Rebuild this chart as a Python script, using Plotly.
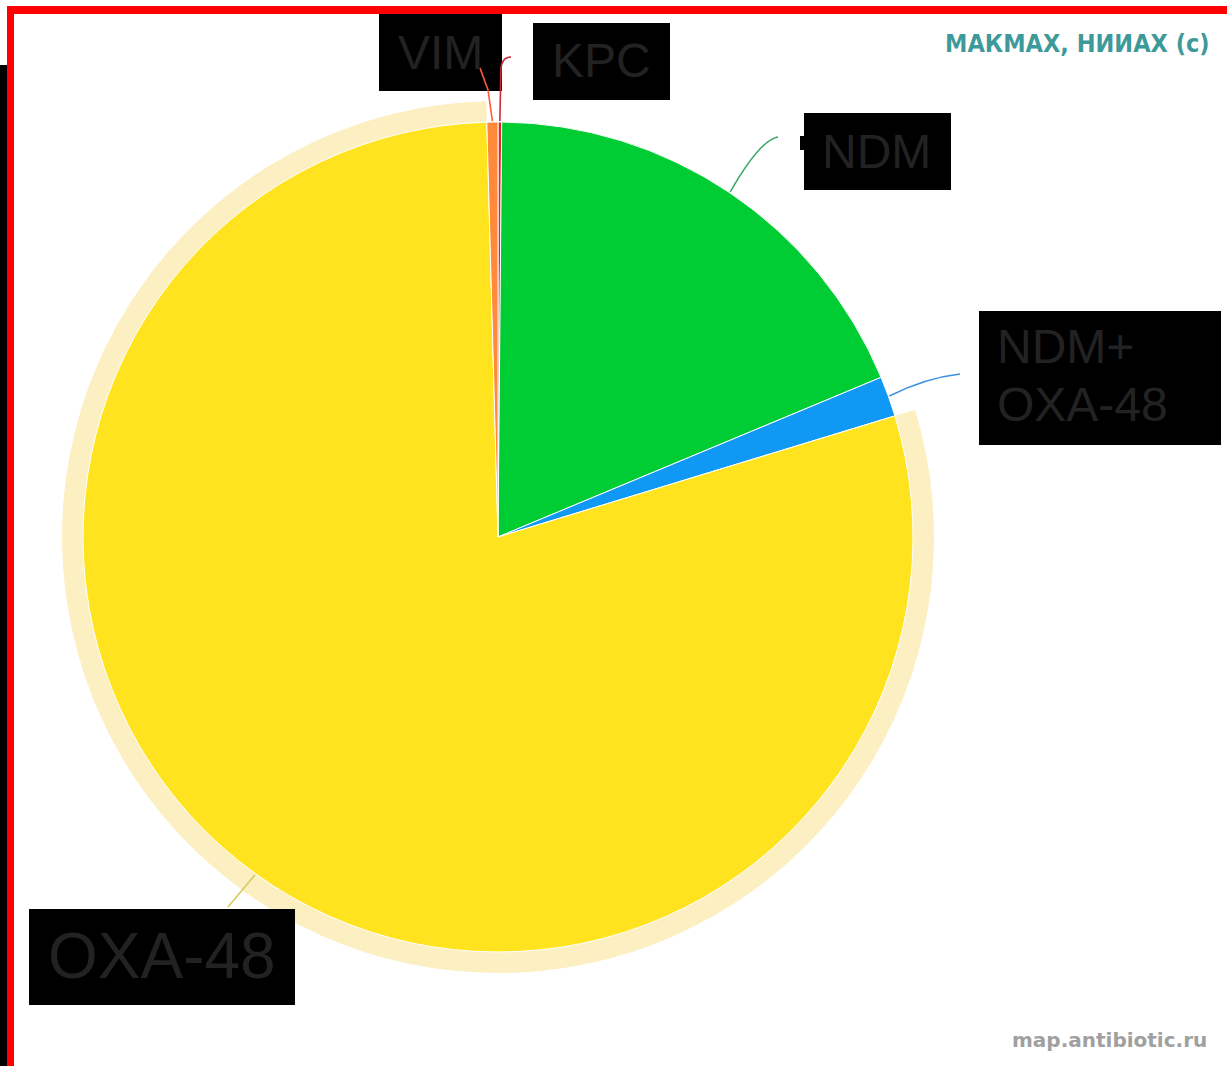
import math
import plotly.graph_objects as go

# ---- data ----
labels = ["KPC", "NDM", "NDM+<br>OXA-48", "OXA-48", "VIM"]
values = [1, 130, 11, 555, 3]
colors = ["#e8212b", "#00cc33", "#0f99f5", "#ffe31e", "#ff8a3a"]
connector_colors = ["#cc2a3a", "#3ea865", "#3b8fe0", "#d9cb5c", "#ff5a3a"]
halo_label = "OXA-48"
credit_top = "МАКМАХ, НИИАХ (с)"
credit_bottom = "map.antibiotic.ru"

W, H = 1227, 1066
CX, CY, R = 498, 537, 415
HALO = 21


def px(x):
    return x / W


def py(y):
    return 1 - y / H


fig = go.Figure()

# halo ring behind the highlighted slice
halo_colors = ["#fcefc2" if l == halo_label else "rgba(0,0,0,0)" for l in labels]
fig.add_trace(go.Pie(
    labels=labels, values=values, sort=False, direction="clockwise", rotation=0,
    marker=dict(colors=halo_colors, line=dict(width=0)),
    hole=(R - 1) / (R + HALO), textinfo="none", hoverinfo="skip", showlegend=False,
    domain=dict(x=[px(CX - R - HALO), px(CX + R + HALO)],
                y=[py(CY + R + HALO), py(CY - R - HALO)]),
))

fig.add_trace(go.Pie(
    labels=labels, values=values, sort=False, direction="clockwise", rotation=0,
    marker=dict(colors=colors, line=dict(color="white", width=1)),
    textinfo="none", showlegend=False,
    domain=dict(x=[px(CX - R), px(CX + R)], y=[py(CY + R), py(CY - R)]),
))

# slice mid angles computed from the data
total = sum(values)
mids = []
acc = 0
for v in values:
    mids.append((acc + v / 2) / total * 360)
    acc += v


def edge(i, r=R):
    a = math.radians(mids[i])
    return CX + r * math.sin(a), CY - r * math.cos(a)


shapes = []
# frame
shapes.append(dict(type="rect", xref="paper", yref="paper", x0=px(0), x1=px(7), y0=py(H), y1=py(65),
                   fillcolor="black", line=dict(width=0), layer="above"))
shapes.append(dict(type="rect", xref="paper", yref="paper", x0=px(7), x1=px(14), y0=py(H), y1=py(6),
                   fillcolor="#ff0000", line=dict(width=0), layer="above"))
shapes.append(dict(type="rect", xref="paper", yref="paper", x0=px(7), x1=px(W), y0=py(14), y1=py(6),
                   fillcolor="#ff0000", line=dict(width=0), layer="above"))

# label boxes: (label index, x0, y0, x1, y1)
boxes = [(4, 379, 14, 502, 91), (0, 533, 23, 670, 100), (1, 804, 113, 951, 190),
         (2, 979, 311, 1221, 445), (3, 29, 909, 295, 1005)]
for _, x0, y0, x1, y1 in boxes:
    shapes.append(dict(type="rect", xref="paper", yref="paper", x0=px(x0), x1=px(x1), y0=py(y1), y1=py(y0),
                       fillcolor="black", line=dict(width=0), layer="above"))
shapes.append(dict(type="rect", xref="paper", yref="paper", x0=px(800), x1=px(805), y0=py(150), y1=py(136),
                   fillcolor="black", line=dict(width=0), layer="above"))


def P(x, y):
    return f"{px(x):.5f},{py(y):.5f}"


# connectors: start at slice edge, end near label
conn = {
    0: lambda s: f"M {P(*s)} L {P(s[0] + 1, 72)} Q {P(s[0] + 1, 57)} {P(511, 57)}",
    4: lambda s: f"M {P(*s)} L {P(488, 90)} L {P(480, 68)}",
    1: lambda s: f"M {P(*s)} Q {P(760, 140)} {P(778, 137)}",
    2: lambda s: f"M {P(*s)} Q {P(925, 378)} {P(960, 374)}",
    3: lambda s: f"M {P(*s)} L {P(228, 907)}",
}
for i, f in conn.items():
    s = edge(i, R + 1)
    shapes.append(dict(type="path", xref="paper", yref="paper", path=f(s),
                       line=dict(color=connector_colors[i], width=1.6), layer="above"))

annotations = []
label_font = dict(family="Liberation Sans, Arial, sans-serif", color="#222222")
# (text, x center, y center, size, anchor)
texts = [(labels[4], 440, 52, 48, "center"), (labels[0], 601, 61, 48, "center"),
         (labels[1], 876, 151, 48, "center"),
         ("NDM+", 995, 347, 48, "left"), ("OXA-48", 995, 405, 48, "left"),
         (labels[3], 162, 956, 64, "center")]
for t, x, y, s, anc in texts:
    annotations.append(dict(text=t, x=px(x), y=py(y), xref="paper", yref="paper",
                            xanchor=anc, yanchor="middle", showarrow=False,
                            font=dict(size=s, **label_font)))

annotations.append(dict(text=f"<b>{credit_top}</b>", x=px(1212), y=py(43), xref="paper", yref="paper",
                        xanchor="right", yanchor="middle", showarrow=False,
                        font=dict(family="DejaVu Sans Condensed, Liberation Sans, Arial, sans-serif", size=25,
                                  color="#3e9a9a")))
annotations.append(dict(text=f"<b>{credit_bottom}</b>", x=px(1209), y=py(1040), xref="paper", yref="paper",
                        xanchor="right", yanchor="middle", showarrow=False,
                        font=dict(family="DejaVu Sans, sans-serif", size=20, color="#a0a0a0")))

fig.update_layout(
    width=W, height=H, margin=dict(l=0, r=0, t=0, b=0),
    paper_bgcolor="white", plot_bgcolor="white",
    shapes=shapes, annotations=annotations, showlegend=False,
)

fig.write_html("out.html")
